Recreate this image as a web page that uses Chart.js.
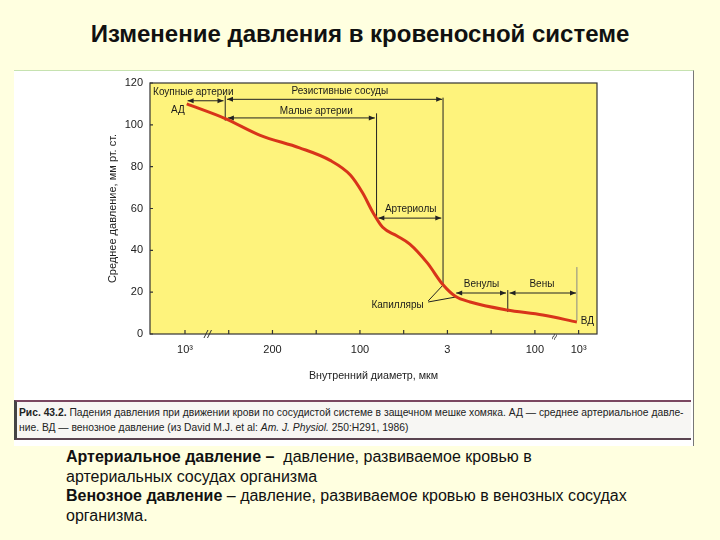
<!DOCTYPE html>
<html>
<head>
<meta charset="utf-8">
<script src="https://cdn.jsdelivr.net/npm/chart.js@4.4.1/dist/chart.umd.min.js"></script>
<style>
  body { margin: 0; background: #FFFFE0; font-family: "Liberation Sans", Arial, sans-serif; }
  #slide { position: relative; width: 720px; height: 540px; overflow: hidden; }
  #title { position: absolute; top: 20px; left: 0; width: 720px; text-align: center; font-weight: bold; font-size: 24px; color: #111; }
  #panel { position: absolute; left: 14px; top: 70px; width: 679px; height: 375px; background: #fff; border-top: 1px solid #c6e2b0; border-right: 1px solid #777; }
  #caption { position: absolute; left: 14px; top: 400px; width: 677px; height: 40px; background: #f7f6f3;
             border-top: 2px solid #7a4660; border-bottom: 2px solid #5a4450; border-left: 3px solid #444;
             font-size: 10.3px; line-height: 14.5px; color: #222; padding: 4px 0 0 2px; box-sizing: border-box; white-space: nowrap; overflow: hidden; }
  #notes { position: absolute; left: 66px; top: 447px; font-size: 16px; line-height: 19.6px; color: #111; }
  canvas { position: absolute; left: 0; top: 0; }
</style>
</head>
<body>
<div id="slide">
  <div id="title">Изменение давления в кровеносной системе</div>
  <div id="panel"></div>
  <div id="caption"><b>Рис. 43.2.</b> Падения давления при движении крови по сосудистой системе в защечном мешке хомяка. АД — среднее артериальное давле-<br>ние. ВД — венозное давление (из David M.J. et al: <i>Am. J. Physiol.</i> 250:H291, 1986)</div>
  <div id="notes">
    <b>Артериальное давление –</b>&nbsp; давление, развиваемое кровью в<br>
    артериальных сосудах организма<br>
    <b>Венозное давление</b> – давление, развиваемое кровью в венозных сосудах<br>
    организма.
  </div>
  <canvas id="chart" width="720" height="540"></canvas>
</div>
<script>
// position along the (broken) diameter axis and mean pressure, mm Hg
const diamPos = [0.42, 0.86, 1.26, 1.71, 2.06, 2.29, 2.43, 2.55, 2.66, 2.82, 2.97, 3.17, 3.35, 3.49, 3.66, 4.08, 4.49, 4.88];
const pressure = [110, 103, 95, 89, 83, 76, 67.5, 58, 51, 47, 43, 34, 23.5, 18, 15.3, 11.5, 9.1, 5.7];

const xTickPos = [0.4, 0.9, 1.4, 1.9, 2.4, 2.9, 3.4, 3.9, 4.4, 4.9];
const xTickLabels = ["10³", "", "200", "", "100", "", "3", "", "100", "10³"];
const yTicks = [0, 20, 40, 60, 80, 100, 120];

const points = diamPos.map((x, i) => ({ x: x, y: pressure[i] }));

// background, frame, inner ticks and the vessel annotations
const schemePlugin = {
    id: "scheme",
    beforeDraw(chart) {
        const a = chart.chartArea, ctx = chart.ctx;
        ctx.save();
        ctx.fillStyle = "#FEF37C";
        ctx.fillRect(a.left, a.top, a.right - a.left, a.bottom - a.top);
        ctx.restore();
    },
    beforeDatasetsDraw(chart) {
        const ctx = chart.ctx, a = chart.chartArea;
        const xs = chart.scales.x, ys = chart.scales.y;
        const X = v => xs.getPixelForValue(v), Y = v => ys.getPixelForValue(v);
        ctx.save();
        ctx.strokeStyle = "#333";
        ctx.lineWidth = 1.2;
        ctx.strokeRect(a.left, a.top, a.right - a.left, a.bottom - a.top);
        ctx.beginPath();
        xTickPos.forEach(v => { ctx.moveTo(X(v), a.bottom); ctx.lineTo(X(v), a.bottom - 4); });
        yTicks.forEach(v => { ctx.moveTo(a.left, Y(v)); ctx.lineTo(a.left + 3, Y(v)); });
        ctx.stroke();

        // axis breaks
        ctx.lineWidth = 1;
        ctx.beginPath();
        [0.64, 0.68].forEach(v => { ctx.moveTo(X(v) - 2, a.bottom + 4); ctx.lineTo(X(v) + 2, a.bottom - 4); });
        ctx.stroke();
        ctx.fillStyle = "#333";
        ctx.font = "11px 'Liberation Sans', Arial";
        ctx.textAlign = "center";
        ctx.textBaseline = "middle";
        ctx.save();
        ctx.translate(X(4.63), a.bottom + 3);
        ctx.rotate(-1.2);
        ctx.fillText("≈", 0, 0);
        ctx.restore();

        // vertical borders between vessel groups
        ctx.strokeStyle = "#222";
        ctx.lineWidth = 1;
        const vline = (x, y1, y2) => { ctx.beginPath(); ctx.moveTo(X(x), Y(y1)); ctx.lineTo(X(x), Y(y2)); ctx.stroke(); };
        vline(0.86, 114, 102);
        vline(2.59, 105.5, 56);
        vline(3.35, 113, 23.5);
        vline(4.09, 21, 10.5);
        ctx.strokeStyle = "#888";
        vline(4.88, 32, 6.5);

        ctx.strokeStyle = "#222";
        ctx.fillStyle = "#222";
        const head = (px, py, dir) => {
            ctx.beginPath();
            ctx.moveTo(px, py);
            ctx.lineTo(px - dir * 6, py - 2.5);
            ctx.lineTo(px - dir * 6, py + 2.5);
            ctx.closePath();
            ctx.fill();
        };
        const arrow = (x1, x2, y) => {
            const p1 = X(x1), p2 = X(x2), py = Y(y);
            ctx.beginPath(); ctx.moveTo(p1, py); ctx.lineTo(p2, py); ctx.stroke();
            head(p1, py, -1);
            head(p2, py, 1);
        };
        arrow(0.43, 0.84, 111.5);
        arrow(0.88, 3.34, 112.2);
        arrow(0.89, 2.57, 103.3);
        arrow(2.61, 3.33, 55.4);
        arrow(3.5, 4.07, 19.6);
        arrow(4.11, 4.87, 19.6);

        // leaders to the capillaries
        ctx.beginPath();
        ctx.moveTo(X(3.18), Y(15.8)); ctx.lineTo(X(3.35), Y(23.4));
        ctx.moveTo(X(3.18), Y(15.3)); ctx.lineTo(X(3.51), Y(17.8));
        ctx.stroke();

        // labels
        ctx.font = "10px 'Liberation Sans', Arial";
        ctx.fillStyle = "#1a1a1a";
        ctx.textAlign = "left";
        ctx.fillText("Коупные артерии", X(0.035), Y(115.7));
        ctx.textAlign = "center";
        ctx.fillText("Резистивные сосуды", X(2.17), Y(116));
        ctx.fillText("Малые артерии", X(1.9), Y(106.6));
        ctx.fillText("Артериолы", X(2.98), Y(59.8));
        ctx.fillText("Венулы", X(3.79), Y(23.6));
        ctx.fillText("Вены", X(4.48), Y(23.6));
        ctx.fillText("Капилляры", X(2.83), Y(13.9));
        ctx.fillText("АД", X(0.32), Y(107));
        ctx.fillText("ВД", X(5.0), Y(6.2));
        ctx.restore();
    }
};

new Chart(document.getElementById("chart"), {
    type: "scatter",
    data: {
        datasets: [{
            data: points,
            showLine: true,
            borderColor: "#D8341A",
            borderWidth: 3,
            pointRadius: 0,
            tension: 0.4,
            cubicInterpolationMode: "monotone"
        }]
    },
    options: {
        responsive: false,
        animation: false,
        layout: { padding: { left: 106, right: 123, top: 83, bottom: 158 } },
        plugins: { legend: { display: false }, tooltip: { enabled: false } },
        scales: {
            x: {
                type: "linear",
                min: 0,
                max: 5.11,
                afterBuildTicks: s => { s.ticks = xTickPos.map(v => ({ value: v })); },
                afterFit: s => { s.height = 48; },
                grid: { display: false, drawTicks: false },
                border: { display: false },
                ticks: {
                    autoSkip: false,
                    maxRotation: 0,
                    padding: 9,
                    color: "#222",
                    font: { size: 11, family: "'Liberation Sans', Arial" },
                    callback: v => xTickLabels[xTickPos.findIndex(p => Math.abs(p - v) < 1e-6)]
                },
                title: { display: true, text: "Внутренний диаметр, мкм", color: "#222", padding: 0, font: { size: 10.7, family: "'Liberation Sans', Arial" } }
            },
            y: {
                min: 0,
                max: 120,
                afterBuildTicks: s => { s.ticks = yTicks.map(v => ({ value: v })); },
                afterFit: s => { s.width = 44; },
                grid: { display: false, drawTicks: false },
                border: { display: false },
                ticks: { padding: 7, color: "#222", font: { size: 11, family: "'Liberation Sans', Arial" } },
                title: { display: true, text: "Среднее давление, мм рт. ст.", color: "#222", padding: 0, font: { size: 11, family: "'Liberation Sans', Arial" } }
            }
        }
    },
    plugins: [schemePlugin]
});
</script>
</body>
</html>
